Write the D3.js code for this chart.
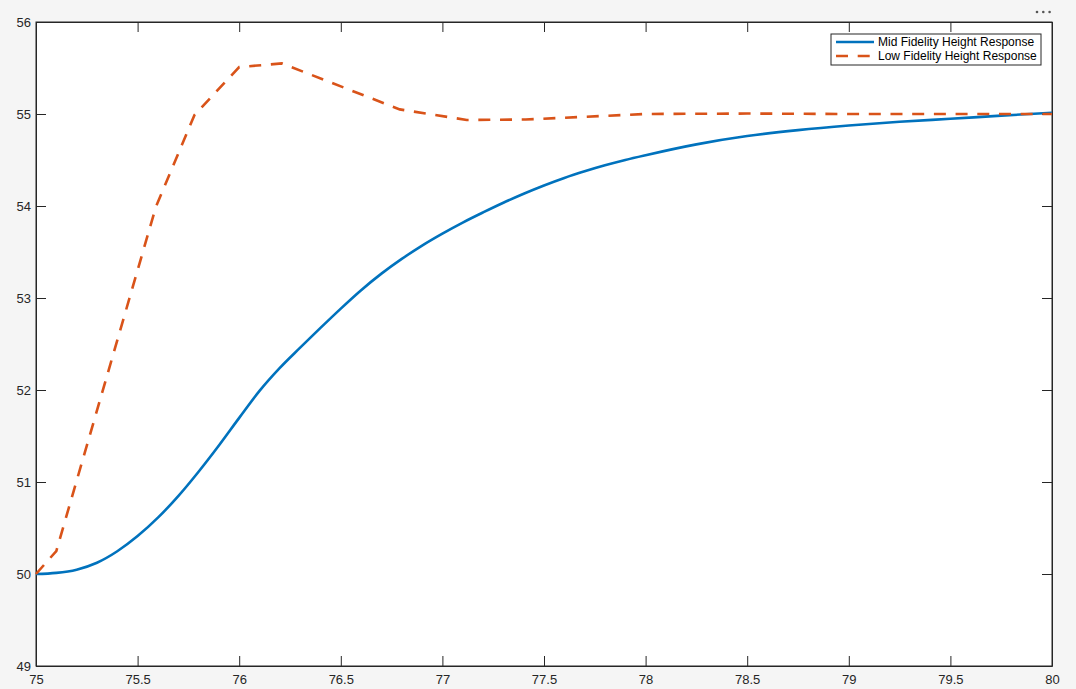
<!DOCTYPE html>
<html>
<head>
<meta charset="utf-8">
<script src="https://cdn.jsdelivr.net/npm/d3@7"></script>
<style>
  html, body { margin: 0; padding: 0; background: #f5f5f5; }
  svg { display: block; font-family: "Liberation Sans", Arial, Helvetica, sans-serif; }
</style>
</head>
<body>
<svg id="chart" width="1076" height="689"></svg>
<script>
// mid fidelity (smooth) response
const midTime = [75.0, 75.1, 75.2, 75.3, 75.4, 75.5, 75.6, 75.7, 75.8, 75.9, 76.0, 76.1, 76.2, 76.3, 76.4, 76.5,
                 76.6, 76.7, 76.8, 76.9, 77.0, 77.1, 77.2, 77.3, 77.4, 77.5, 77.6, 77.7, 77.8, 77.9, 78.0,
                 78.25, 78.5, 78.75, 79.0, 79.25, 79.5, 79.75, 80.0];
const midHeight = [50.00, 50.012, 50.047, 50.122, 50.247, 50.412, 50.612, 50.847, 51.112, 51.397, 51.697, 51.99, 52.24, 52.46, 52.675, 52.885,
                   53.085, 53.265, 53.425, 53.57, 53.70, 53.82, 53.93, 54.035, 54.133, 54.223, 54.305, 54.377, 54.442, 54.50, 54.552,
                   54.67, 54.76, 54.825, 54.875, 54.915, 54.948, 54.982, 55.014];

// low fidelity response (coarse samples, drawn straight between them)
const lowTime = [75.0, 75.1, 75.59, 75.78, 76.0, 76.21, 76.79, 77.12, 77.41, 78.0, 78.5, 79.0, 79.5, 80.0];
const lowHeight = [50.0, 50.25, 53.99, 54.99, 55.51, 55.55, 55.05, 54.935, 54.94, 55.0, 55.005, 55.0, 55.0, 55.0];

const xTicks = [75, 75.5, 76, 76.5, 77, 77.5, 78, 78.5, 79, 79.5, 80];
const yTicks = [49, 50, 51, 52, 53, 54, 55, 56];

const seriesNames = ["Mid Fidelity Height Response", "Low Fidelity Height Response"];
const seriesColors = ["#0072BD", "#D95319"];

const svg = d3.select("#chart");
const plotLeft = 36, plotRight = 1052, plotTop = 22, plotBottom = 666;
const axisColor = "#262626";

const x = d3.scaleLinear().domain([75, 80]).range([plotLeft, plotRight]);
const y = d3.scaleLinear().domain([49, 56]).range([plotBottom, plotTop]);

// plot area
svg.append("rect")
    .attr("x", plotLeft).attr("y", plotTop)
    .attr("width", plotRight - plotLeft).attr("height", plotBottom - plotTop)
    .attr("fill", "#fff");

// axes, ticks pointing inwards on all four sides
const tickLen = 10;
svg.append("g")
    .attr("transform", `translate(0,${plotBottom})`)
    .call(d3.axisBottom(x).tickValues(xTicks).tickSizeInner(-tickLen).tickSizeOuter(0).tickPadding(6).tickFormat(d3.format("")))
    .call(g => g.selectAll("text").attr("dy", "0.95em"));
svg.append("g")
    .attr("transform", `translate(0,${plotTop})`)
    .call(d3.axisTop(x).tickValues(xTicks).tickSizeInner(-tickLen).tickSizeOuter(0).tickFormat(""));
svg.append("g")
    .attr("transform", `translate(${plotLeft},0)`)
    .call(d3.axisLeft(y).tickValues(yTicks).tickSizeInner(-tickLen).tickSizeOuter(0).tickPadding(5).tickFormat(d3.format("")));
svg.append("g")
    .attr("transform", `translate(${plotRight},0)`)
    .call(d3.axisRight(y).tickValues(yTicks).tickSizeInner(-tickLen).tickSizeOuter(0).tickFormat(""));

svg.selectAll(".domain").attr("stroke", axisColor);
svg.selectAll(".tick line").attr("stroke", axisColor);
svg.selectAll(".tick text")
    .attr("fill", axisColor)
    .style("font-size", "13px")
    .style("font-family", "'Liberation Sans', Arial, Helvetica, sans-serif");

// box around plot
svg.append("rect")
    .attr("x", plotLeft).attr("y", plotTop)
    .attr("width", plotRight - plotLeft).attr("height", plotBottom - plotTop)
    .attr("fill", "none")
    .attr("stroke", axisColor);

// lines
const midLine = d3.line()
    .x((d, i) => x(midTime[i]))
    .y(d => y(d))
    .curve(d3.curveMonotoneX);
const lowLine = d3.line()
    .x((d, i) => x(lowTime[i]))
    .y(d => y(d));

svg.append("path")
    .attr("d", midLine(midHeight))
    .attr("fill", "none")
    .attr("stroke", seriesColors[0])
    .attr("stroke-width", 2.6);

svg.append("path")
    .attr("d", lowLine(lowHeight))
    .attr("fill", "none")
    .attr("stroke", seriesColors[1])
    .attr("stroke-width", 2.6)
    .attr("stroke-dasharray", "12,9.7");

// legend
const legend = svg.append("g").attr("transform", "translate(831,34)");
legend.append("rect")
    .attr("width", 210).attr("height", 31)
    .attr("fill", "#fff")
    .attr("stroke", axisColor);

seriesNames.forEach((name, i) => {
    const row = legend.append("g").attr("transform", `translate(0,${8 + i * 14})`);
    row.append("line")
        .attr("x1", 5).attr("x2", 43)
        .attr("stroke", seriesColors[i])
        .attr("stroke-width", 2.6)
        .attr("stroke-dasharray", i === 1 ? "12,9.7" : null);
    row.append("text")
        .attr("x", 47).attr("dy", "0.35em")
        .attr("fill", "#000")
        .style("font-size", "12px")
        .text(name);
});

// toolbar dots in the corner
svg.selectAll(".dot")
    .data([0, 1, 2])
    .join("circle")
    .attr("class", "dot")
    .attr("cx", d => 1037 + d * 6.3)
    .attr("cy", 12)
    .attr("r", 1.3)
    .attr("fill", "#555");
</script>
</body>
</html>
